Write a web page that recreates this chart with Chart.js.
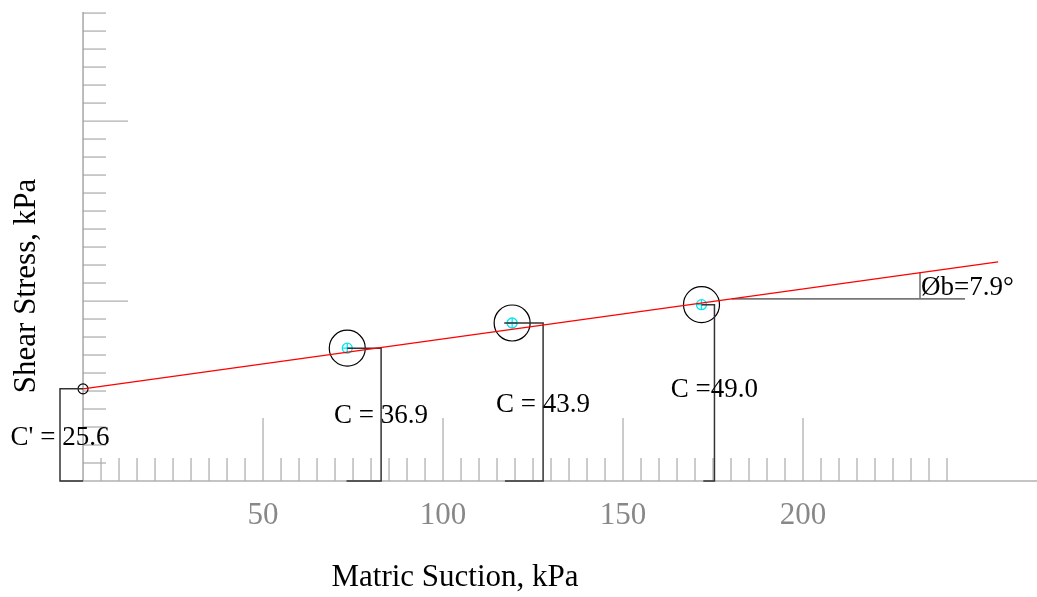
<!DOCTYPE html>
<html>
<head>
<meta charset="utf-8">
<script src="https://cdn.jsdelivr.net/npm/chart.js@4.4.1/dist/chart.umd.min.js"></script>
<style>
  html, body { margin: 0; padding: 0; background: #fff; overflow: hidden; }
  #wrap { width: 1037px; height: 597px; }
</style>
</head>
<body>
<div id="wrap"><canvas id="chart"></canvas></div>
<script>
// values (kPa)
const suction = [73.4, 119.2, 171.8];
const cohesion = [36.9, 43.9, 49.0];
const interceptX = [0];
const interceptY = [25.6];
const fitX = [0, 254.2];
const fitY = [25.6, 60.9];

// bracket lines marking each cohesion value
const bracketX = [
    [0, -6.4, -6.4, 0],
    [73.4, 82.8, 82.8, 73.2],
    [117.0, 127.8, 127.8, 117.2],
    [171.8, 175.4, 175.4, 172.3]
];
const bracketY = [
    [25.6, 25.6, 0, 0],
    [36.9, 36.9, 0, 0],
    [43.9, 43.9, 0, 0],
    [49.0, 49.0, 0, 0]
];
const cLabels = ["C' = 25.6", "C = 36.9", "C = 43.9", "C =49.0"];

// friction angle marker
const angleBaseX = [180.2, 245];
const angleBaseY = [50.6, 50.6];
const angleTickX = [232.5, 232.5];
const angleTickY = [50.6, 57.9];
const angleLabel = 'Øb=7.9°';

const xTickLabels = [50, 100, 150, 200];
const xMinorTicks = [];
for (let v = 5; v <= 240; v += 5) xMinorTicks.push(v);
const yMinorTicks = [];
for (let v = 5; v <= 130; v += 5) yMinorTicks.push(v);
const majorTicks = [50, 100, 150, 200];

const serif = "'Liberation Serif', 'Times New Roman', serif";
const pts = (xs, ys) => xs.map((x, i) => ({ x: x, y: ys[i] }));

const lineSet = (xs, ys, color, width) => ({
    data: pts(xs, ys),
    showLine: true,
    borderColor: color,
    borderWidth: width,
    pointRadius: 0,
    fill: false,
    clip: false
});

// axes are drawn by hand (ticks of two lengths, axis through x = 0)
const axesPlugin = {
    id: 'axes',
    beforeDatasetsDraw(chart) {
        const { ctx, chartArea, scales: { x, y } } = chart;
        const x0 = x.getPixelForValue(0);
        const y0 = y.getPixelForValue(0);
        ctx.save();
        ctx.lineWidth = 1.3;
        ctx.strokeStyle = '#b0b0b0';

        ctx.beginPath();
        ctx.moveTo(chartArea.left, y0);
        ctx.lineTo(chartArea.right, y0);
        ctx.stroke();

        xMinorTicks.forEach(v => {
            const px = x.getPixelForValue(v);
            const len = majorTicks.includes(v) ? 63 : 23;
            ctx.beginPath();
            ctx.moveTo(px, y0);
            ctx.lineTo(px, y0 - len);
            ctx.stroke();
        });

        yMinorTicks.forEach(v => {
            const py = y.getPixelForValue(v);
            const len = majorTicks.includes(v) ? 45 : 23;
            ctx.beginPath();
            ctx.moveTo(x0, py);
            ctx.lineTo(x0 + len, py);
            ctx.stroke();
        });

        ctx.strokeStyle = '#999';
        ctx.beginPath();
        ctx.moveTo(x0, y0);
        ctx.lineTo(x0, chartArea.top);
        ctx.stroke();
        ctx.restore();
    },
    afterDatasetsDraw(chart) {
        const { ctx, scales: { x, y } } = chart;
        ctx.save();
        ctx.fillStyle = '#000';
        ctx.font = '27px ' + serif;
        ctx.textAlign = 'center';
        ctx.textBaseline = 'alphabetic';

        // label anchors: vertical of each bracket, baseline in kPa
        const labelBase = [10.0, 16.1, 19.2, 23.3];
        cLabels.forEach((t, i) => {
            ctx.fillText(t, x.getPixelForValue(bracketX[i][1]), y.getPixelForValue(labelBase[i]));
        });

        ctx.textAlign = 'left';
        ctx.fillText(angleLabel, x.getPixelForValue(232.8), y.getPixelForValue(51.7));

        // axis titles
        ctx.font = '31px ' + serif;
        ctx.textAlign = 'center';
        ctx.fillText('Matric Suction, kPa', 455, 586);
        ctx.translate(35, 286);
        ctx.rotate(-Math.PI / 2);
        ctx.fillText('Shear Stress, kPa', 0, 0);
        ctx.restore();
    }
};

const datasets = [
    lineSet(fitX, fitY, '#ff0000', 1.3),
    ...bracketX.map((xs, i) => lineSet(xs, bracketY[i], '#333', 1.5)),
    lineSet(angleBaseX, angleBaseY, '#777', 1.8),
    lineSet(angleTickX, angleTickY, '#222', 1),
    {
        data: pts(suction, cohesion),
        pointRadius: 18,
        pointBorderColor: '#000',
        pointBackgroundColor: 'rgba(0,0,0,0)',
        pointBorderWidth: 1.2,
        clip: false
    },
    {
        data: pts(suction, cohesion),
        pointRadius: 5,
        pointBorderColor: '#00e5ee',
        pointBackgroundColor: 'rgba(0,0,0,0)',
        pointBorderWidth: 1.3,
        clip: false
    },
    {
        data: pts(suction, cohesion),
        pointStyle: 'cross',
        pointRadius: 5,
        pointBorderColor: '#00e5ee',
        pointBorderWidth: 1.3,
        clip: false
    },
    {
        data: pts(interceptX, interceptY),
        pointRadius: 5,
        pointBorderColor: '#000',
        pointBackgroundColor: 'rgba(0,0,0,0)',
        pointBorderWidth: 1.2,
        clip: false
    }
];

new Chart(document.getElementById('chart'), {
    type: 'scatter',
    data: { datasets: datasets },
    options: {
        responsive: true,
        maintainAspectRatio: false,
        animation: false,
        events: [],
        layout: {
            autoPadding: false,
            padding: { top: 12, left: 60, right: 0, bottom: 0 }
        },
        plugins: {
            legend: { display: false },
            tooltip: { enabled: false }
        },
        scales: {
            x: {
                type: 'linear',
                min: -6.4,
                max: 265,
                grid: { display: false },
                border: { display: false },
                afterBuildTicks: s => { s.ticks = xTickLabels.map(v => ({ value: v })); },
                afterFit: s => { s.height = 116; },
                ticks: {
                    color: '#888',
                    padding: 8,
                    maxRotation: 0,
                    font: { family: serif, size: 31 }
                }
            },
            y: {
                type: 'linear',
                display: false,
                min: 0,
                max: 130.3
            }
        }
    },
    plugins: [axesPlugin]
});
</script>
</body>
</html>
